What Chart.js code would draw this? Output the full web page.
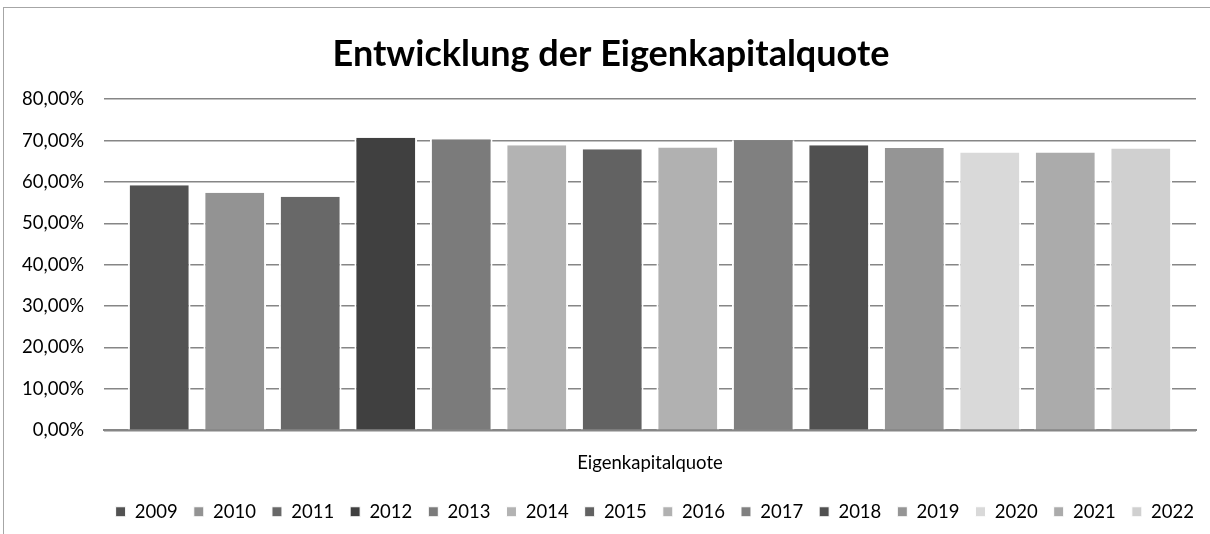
<!DOCTYPE html>
<html>
<head>
<meta charset="utf-8">
<script src="https://cdn.jsdelivr.net/npm/chart.js@4/dist/chart.umd.min.js"></script>
<style>
  html, body { margin: 0; padding: 0; background: #fff; }
  #wrap { position: relative; width: 1210px; height: 534px; overflow: hidden; }
  #frame { position: absolute; left: 3px; top: 7px; width: 1220px; height: 540px; border: 1px solid #a6a6a6; box-sizing: border-box; }
  canvas { position: absolute; left: 0; top: 0; }
</style>
</head>
<body>
<div id="wrap">
  <div id="frame"></div>
  <canvas id="c" width="1210" height="534"></canvas>
</div>
<script>
const categories = ["Eigenkapitalquote"];
const years = ["2009","2010","2011","2012","2013","2014","2015","2016","2017","2018","2019","2020","2021","2022"];
const values = [0.592, 0.574, 0.564, 0.707, 0.703, 0.689, 0.679, 0.683, 0.701, 0.689, 0.682, 0.671, 0.671, 0.681];
const colors = ["#525252","#939393","#686868","#404040","#7b7b7b","#b3b3b3","#626262","#b1b1b1","#808080","#505050","#959595","#d9d9d9","#ababab","#d0d0d0"];
const yTicks = [0, 0.1, 0.2, 0.3, 0.4, 0.5, 0.6, 0.7, 0.8];
const titleText = "Entwicklung der Eigenkapitalquote";

const FONT = "Lato, 'Open Sans', sans-serif";

const datasets = years.map((y, i) => ({
  label: y,
  data: [values[i]],
  backgroundColor: colors[i],
  borderColor: "#ffffff",
  borderWidth: { left: 2, right: 2, top: 0, bottom: 0 },
  borderSkipped: false,
  categoryPercentage: 0.968,
  barPercentage: 0.83
}));

new Chart(document.getElementById("c"), {
  type: "bar",
  data: { labels: categories, datasets },
  options: {
    responsive: false,
    animation: false,
    layout: { padding: { left: 12, right: 0, top: 0, bottom: 3 } },
    plugins: {
      title: {
        display: true,
        text: titleText,
        color: "#000",
        font: { family: FONT, size: 36, weight: "bold", lineHeight: 1.2 },
        padding: { top: 33, bottom: 23 }
      },
      legend: {
        position: "bottom",
        align: "end",
        labels: {
          color: "#000",
          font: { family: FONT, size: 18.5 },
          boxWidth: 10,
          boxHeight: 10,
          padding: 16
        }
      },
      tooltip: { enabled: false }
    },
    scales: {
      x: {
        grid: { display: false, drawTicks: false },
        border: { display: true, color: "#868686", width: 2 },
        ticks: { color: "#000", font: { family: FONT, size: 18.5 }, padding: 22 },
        afterFit: (scale) => { scale.height = scale.height - 10; }
      },
      y: {
        min: 0,
        max: 0.8,
        afterBuildTicks: (scale) => { scale.ticks = yTicks.map(v => ({ value: v })); },
        afterFit: (scale) => { scale.width = 92; },
        grid: { color: "#868686", lineWidth: 1.5, drawTicks: false },
        border: { display: false },
        ticks: {
          color: "#000",
          font: { family: FONT, size: 18.5 },
          padding: 20,
          callback: (v) => (v * 100).toFixed(2).replace(".", ",") + "%"
        }
      },
      yRight: {
        position: "right",
        display: true,
        grid: { display: false, drawTicks: false },
        border: { display: false },
        ticks: { display: false },
        afterFit: (scale) => { scale.width = 14; }
      }
    }
  }
});
</script>
</body>
</html>
